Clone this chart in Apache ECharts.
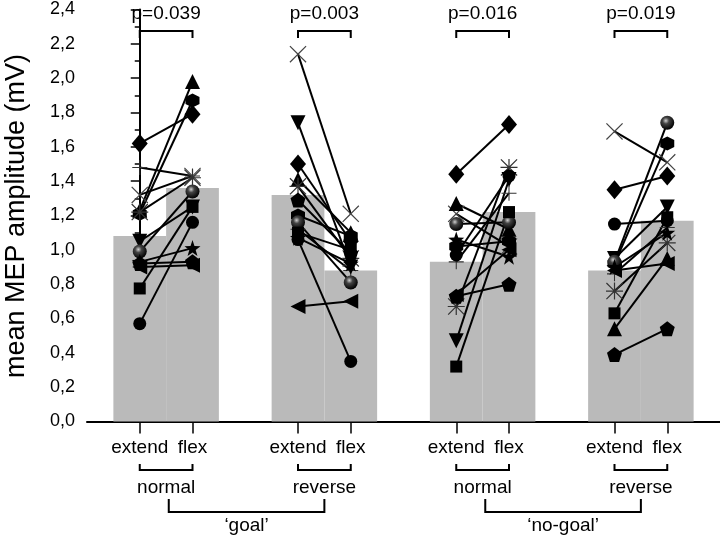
<!DOCTYPE html>
<html><head><meta charset="utf-8">
<script src="https://cdn.jsdelivr.net/npm/echarts@6/dist/echarts.min.js"></script>
<style>html,body{margin:0;padding:0;background:#fff}#main{width:720px;height:537px}</style>
</head><body><div id="main"></div>
<script>
// ---- data ----
const tickLabels = ['extend', 'flex'];
const conditionLabels = ['normal', 'reverse', 'normal', 'reverse'];
const goalLabels = ['\u2018goal\u2019', '\u2018no-goal\u2019'];
const pValues = ['p=0.039', 'p=0.003', 'p=0.016', 'p=0.019'];
const barPositions = [0, 1, 3, 4, 6, 7, 9, 10];
const barValues = [1.08, 1.36, 1.32, 0.88, 0.93, 1.22, 0.88, 1.17];
const subjectSymbols = ['diamond','plus','cross','triangle','hexagon','asterisk','triangleDown','sphere','star','pentagon','circle','rect','triangleLeft'];
// extend / flex values per subject, per condition
const goalNormalExtend    = [1.62, 1.48, 1.32, 1.23, 1.21, 1.22, 1.05, 0.99, 0.93, 0.92, 0.57, 0.775, 0.90];
const goalNormalFlex      = [1.79, 1.43, 1.43, 1.98, 1.87, 1.42, 1.25, 1.34, 1.01, 0.93, 1.16, 1.25, 0.91];
const goalReverseExtend   = [1.50, 1.12, 2.14, 1.41, 1.20, 1.37, 1.74, 1.16, 1.07, 1.29, 1.06, 1.10, 0.67];
const goalReverseFlex     = [1.05, 0.88, 1.21, 1.10, 1.08, 0.95, 0.90, 0.81, 0.92, 0.98, 0.35, 1.00, 0.70];
const nogoalNormalExtend  = [1.44, 0.93, 1.21, 1.27, 1.02, 0.67, 0.47, 1.15, 1.06, 0.73, 0.97, 0.32, 0.74];
const nogoalNormalFlex    = [1.73, 1.33, 1.02, 1.12, 1.05, 1.48, 1.41, 1.16, 0.96, 0.80, 1.43, 1.22, 1.00];
const nogoalReverseExtend = [1.35, 0.86, 1.69, 0.54, 0.92, 0.76, 0.95, 0.93, 0.90, 0.39, 1.15, 0.63, 0.88];
const nogoalReverseFlex   = [1.43, 1.13, 1.51, 0.95, 1.62, 1.04, 1.25, 1.74, 1.10, 0.54, 1.17, 1.19, 0.92];

const groups = [
  [0, goalNormalExtend, goalNormalFlex],
  [3, goalReverseExtend, goalReverseFlex],
  [6, nogoalNormalExtend, nogoalNormalFlex],
  [9, nogoalReverseExtend, nogoalReverseFlex]
];

// ---- symbol styles ----
const X_PATH = 'M-10,-9 L-9,-10 L0,-1 L9,-10 L10,-9 L1,0 L10,9 L9,10 L0,1 L-9,10 L-10,9 L-1,0 Z';
const PLUS_PATH = 'M-10,-0.7 L-0.7,-0.7 L-0.7,-10 L0.7,-10 L0.7,-0.7 L10,-0.7 L10,0.7 L0.7,0.7 L0.7,10 L-0.7,10 L-0.7,0.7 L-10,0.7 Z';
const sym = {
  diamond: {symbol: 'diamond', size: [16, 19]},
  plus: {symbol: 'path://' + PLUS_PATH, size: 15, color: '#333'},
  cross: {symbol: 'path://' + X_PATH, size: 17, color: '#444'},
  triangle: {symbol: 'triangle', size: 15},
  hexagon: {symbol: 'path://M0,-10 L8.66,-5 L8.66,5 L0,10 L-8.66,5 L-8.66,-5 Z', size: 14},
  asterisk: {symbol: 'path://' + X_PATH + ' ' + PLUS_PATH, size: 17, color: '#333'},
  triangleDown: {symbol: 'triangle', size: 15, rotate: 180},
  sphere: {symbol: 'circle', size: 14, color: {type: 'radial', x: 0.4, y: 0.35, r: 0.65,
    colorStops: [{offset: 0, color: '#cfcfcf'}, {offset: 0.35, color: '#444'}, {offset: 1, color: '#000'}]}},
  star: {symbol: 'path://M0,-10 L2.35,-3.24 L9.51,-3.09 L3.8,1.24 L5.88,8.09 L0,4 L-5.88,8.09 L-3.8,1.24 L-9.51,-3.09 L-2.35,-3.24 Z', size: 16},
  pentagon: {symbol: 'path://M0,-10 L9.51,-3.09 L5.88,8.09 L-5.88,8.09 L-9.51,-3.09 Z', size: 15},
  circle: {symbol: 'circle', size: 13},
  rect: {symbol: 'rect', size: 12},
  triangleLeft: {symbol: 'triangle', size: 15, rotate: 90}
};

const FONT = '"Liberation Sans", Arial, sans-serif';

const series = [{
  type: 'bar',
  data: barPositions.map((p, i) => [p, barValues[i]]),
  barWidth: 52.75,
  barGap: '-100%',
  itemStyle: {color: '#bababa'},
  silent: true,
  z: 1
}];

groups.forEach(([x0, ext, flx]) => {
  subjectSymbols.forEach((name, i) => {
    const s = sym[name];
    series.push({
      type: 'line',
      data: [[x0, ext[i]], [x0 + 1, flx[i]]],
      symbol: s.symbol,
      symbolSize: s.size,
      symbolRotate: s.rotate || 0,
      symbolKeepAspect: false,
      showAllSymbol: true,
      itemStyle: {color: s.color || '#000', borderWidth: 0},
      lineStyle: {color: '#000', width: 2},
      silent: true,
      z: 3
    });
  });
});

const chart = echarts.init(document.getElementById('main'));
chart.setOption({
  animation: false,
  backgroundColor: '#fff',
  grid: {left: 87, right: 0, top: 9.5, bottom: 115.5, containLabel: false},
  xAxis: {
    type: 'value', min: -1, max: 11, interval: 1,
    splitLine: {show: false},
    axisLine: {lineStyle: {color: '#000', width: 2}},
    axisTick: {show: true, length: 12, customValues: barPositions, lineStyle: {color: '#000', width: 1.5}},
    axisLabel: {customValues: barPositions, margin: 17, color: '#000', fontSize: 19, fontFamily: FONT,
      formatter: v => tickLabels[(barPositions.indexOf(v)) % 2]}
  },
  yAxis: {
    type: 'value', min: 0, max: 2.4, interval: 0.2,
    splitLine: {show: false},
    axisLine: {show: true, lineStyle: {color: '#000', width: 2}},
    axisTick: {show: true, length: 9, lineStyle: {color: '#000', width: 1.5}},
    minorTick: {show: true, splitNumber: 2, length: 5, lineStyle: {color: '#000', width: 1.5}},
    axisLabel: {margin: 12, color: '#000', fontSize: 18, fontFamily: FONT,
      formatter: v => v.toFixed(1).replace('.', ',')}
  },
  series: series
});

const X = v => chart.convertToPixel({xAxisIndex: 0}, v);
const graphics = [];
const bracket = (a, b, yA, yB) => ({type: 'polyline', silent: true,
  shape: {points: [[a, yA], [a, yB], [b, yB], [b, yA]]},
  style: {stroke: '#000', lineWidth: 2, fill: null}});
const txt = (x, y, t, size) => ({type: 'text', silent: true, x: x, y: y,
  style: {text: t, fill: '#000', font: size + 'px ' + FONT, align: 'center', verticalAlign: 'middle'}});

groups.forEach(([x0], gi) => {
  const a = X(x0), b = X(x0 + 1);
  graphics.push(bracket(a, b, 38, 31));
  graphics.push(txt((a + b) / 2, 14, pValues[gi], 19));
  graphics.push(bracket(a, b, 464, 470));
  graphics.push(txt((a + b) / 2, 488, conditionLabels[gi], 19));
});
[[0, 3], [6, 9]].forEach(([g1, g2], k) => {
  const a = X(g1 + 0.55), b = X(g2 + 0.5);
  graphics.push(bracket(a, b, 499, 512));
  graphics.push(txt((a + b) / 2, 526, goalLabels[k], 19));
});
graphics.push({type: 'text', silent: true, x: 17, y: 216, rotation: Math.PI / 2,
  style: {text: 'mean MEP amplitude (mV)', fill: '#000', font: '27px ' + FONT, align: 'center', verticalAlign: 'middle'}});
chart.setOption({graphic: graphics});
</script></body></html>
